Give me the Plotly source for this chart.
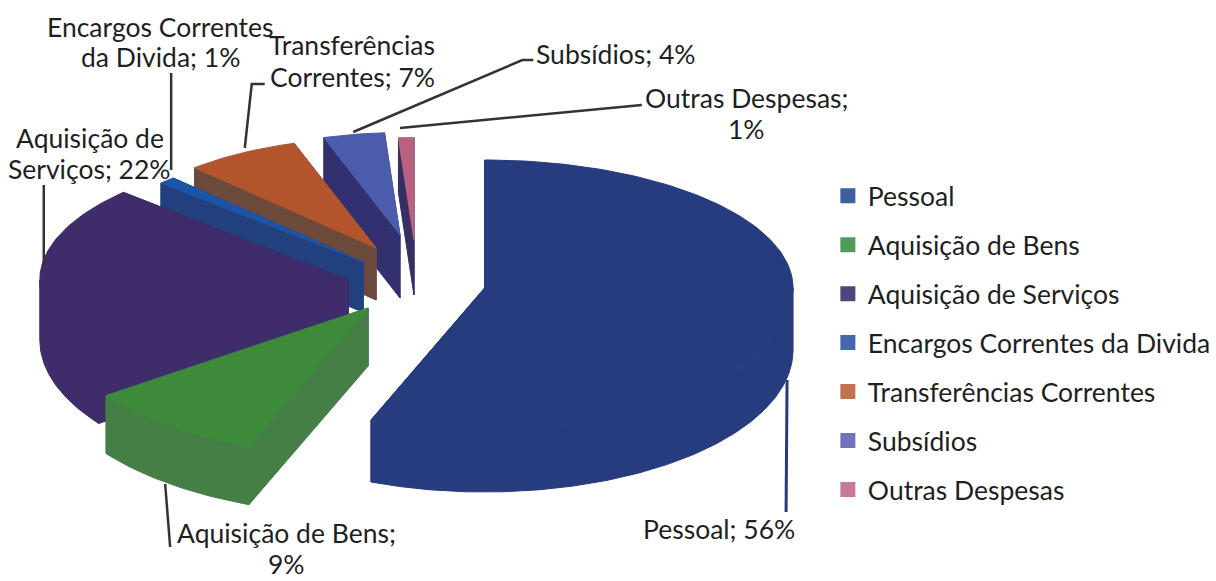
import math
import plotly.graph_objects as go

categories = ["Pessoal", "Aquisição de Bens", "Aquisição de Serviços",
              "Encargos Correntes da Divida", "Transferências Correntes",
              "Subsídios", "Outras Despesas"]
values = [56, 9, 22, 1, 7, 4, 1]
label_texts = ["Pessoal; 56%", "Aquisição de Bens;<br>9%", "Aquisição de<br>Serviços; 22%",
               "Encargos Correntes<br>da Divida; 1%", "Transferências<br>Correntes; 7%",
               "Subsídios; 4%", "Outras Despesas;<br>1%"]
legend_colors = ["#3F5FA0", "#4F9A5C", "#51437F", "#4468AE", "#C2714F", "#7570BE", "#C77A98"]
top_colors = ["#273B7F", "#3D8A3A", "#3F2C6A", "#1C55A6", "#B2552C", "#4C5CAC", "#B8627F"]
wall_colors = ["#273B7F", "#457F45", "#3F2C6A", "#223F7E", "#6B4A3C", "#33306F", "#352F63"]

# exploded 3D geometry per slice: apex x, apex y, radial scale, depth
explode = [(487, 288, 1.00, 62), (370, 308, 1.05, 58), (350, 280, 1.00, 60),
           (365, 262, 0.90, 50), (378, 248, 0.86, 52), (402, 235, 0.80, 63), (416, 240, 0.80, 55)]
RX, RY_BACK, RY_FRONT = 310, 128, 142
FONT = "Lato"
TEXT = "#1F1F1F"
LABEL_SIZE = 26.5
WIN_W, WIN_H = 1216, 581
DRAWN_W = 1208


def rim(theta, ax, ay, s):
    ry = RY_BACK if math.cos(theta) > 0 else RY_FRONT
    return ax + s * RX * math.sin(theta), ay - s * ry * math.cos(theta)


fig = go.Figure()
total = sum(values)
starts = [sum(values[:i]) / total * 2 * math.pi for i in range(len(values))]
ends = [sum(values[:i + 1]) / total * 2 * math.pi for i in range(len(values))]

for i in range(len(values) - 1, -1, -1):
    ax, ay, s, d = explode[i]
    n = max(4, int(values[i] * 3))
    thetas = [starts[i] + (ends[i] - starts[i]) * k / n for k in range(n + 1)]
    arc = [rim(t, ax, ay, s) for t in thetas]
    faces = [
        [(ax, ay), arc[0], (arc[0][0], arc[0][1] + d), (ax, ay + d)],
        [(ax, ay), arc[-1], (arc[-1][0], arc[-1][1] + d), (ax, ay + d)],
    ]
    # outer wall: only the part of the rim facing the viewer
    lo = max(starts[i], math.pi / 2)
    hi = min(ends[i], 3 * math.pi / 2)
    if hi > lo:
        front = [rim(lo + (hi - lo) * k / n, ax, ay, s) for k in range(n + 1)]
        faces.append(front + [(p[0], p[1] + d) for p in reversed(front)])
    for face in faces:
        fig.add_trace(go.Scatter(x=[p[0] for p in face] + [face[0][0]],
                                 y=[p[1] for p in face] + [face[0][1]],
                                 mode="lines", fill="toself", fillcolor=wall_colors[i],
                                 line=dict(color=wall_colors[i], width=1),
                                 hoverinfo="skip", showlegend=False))
    top = [(ax, ay)] + arc
    fig.add_trace(go.Scatter(x=[p[0] for p in top] + [ax], y=[p[1] for p in top] + [ay],
                             mode="lines", fill="toself", fillcolor=top_colors[i],
                             line=dict(color=top_colors[i], width=1),
                             name=categories[i], text=label_texts[i], hoverinfo="text",
                             showlegend=False))

for i, (name, color) in enumerate(zip(categories, legend_colors)):
    fig.add_trace(go.Scatter(x=[None], y=[None], mode="markers", name=name,
                             legendgroup=name, legendrank=i + 1,
                             marker=dict(symbol="square", size=15, color=color)))

label_pos = [(723, 529), (288, 548), (90, 153), (161, 42), (354, 61), (619, 54), (750, 113)]
line_gaps = [31, 31, 31, 30, 32, 31, 31]
annotations = []
for (x, y), t, gap in zip(label_pos, label_texts, line_gaps):
    lines = t.split("<br>")
    for k, line in enumerate(lines):
        annotations.append(dict(x=x, y=y + (k - (len(lines) - 1) / 2) * gap,
                                xref="x", yref="y", text=line, showarrow=False,
                                align="center", xanchor="center", yanchor="middle",
                                font=dict(family=FONT, size=LABEL_SIZE, color=TEXT)))

leaders = [("M 791 380 L 790 512", "#273B7F", 3),
           ("M 166 484 L 171 547", "#333333", 2.5),
           ("M 44 185 L 44 265", "#333333", 2.5),
           ("M 172 73 L 172 170", "#333333", 2.5),
           ("M 246 148 L 253 84 L 266 84", "#333333", 2.5),
           ("M 355 132 L 525 60 L 536 60", "#333333", 2.5),
           ("M 402 128 L 645 105", "#333333", 2.5)]
shapes = [dict(type="path", path=p, line=dict(color=c, width=w), xref="x", yref="y")
          for p, c, w in leaders]

fig.update_layout(
    width=WIN_W, height=WIN_H,
    margin=dict(l=0, r=0, t=0, b=0),
    paper_bgcolor="white", plot_bgcolor="white",
    xaxis=dict(range=[0, DRAWN_W], visible=False, fixedrange=True),
    yaxis=dict(range=[WIN_H, 0], visible=False, fixedrange=True),
    legend=dict(x=832 / DRAWN_W, y=1 - 172 / WIN_H,
                xanchor="left", yanchor="top",
                font=dict(family=FONT, size=26.5, color=TEXT),
                tracegroupgap=11.5, bgcolor="rgba(0,0,0,0)"),
    annotations=annotations, shapes=shapes,
)

fig.write_html("out.html", config={"displayModeBar": False, "responsive": False},
               post_script="document.body.style.margin='0';")
